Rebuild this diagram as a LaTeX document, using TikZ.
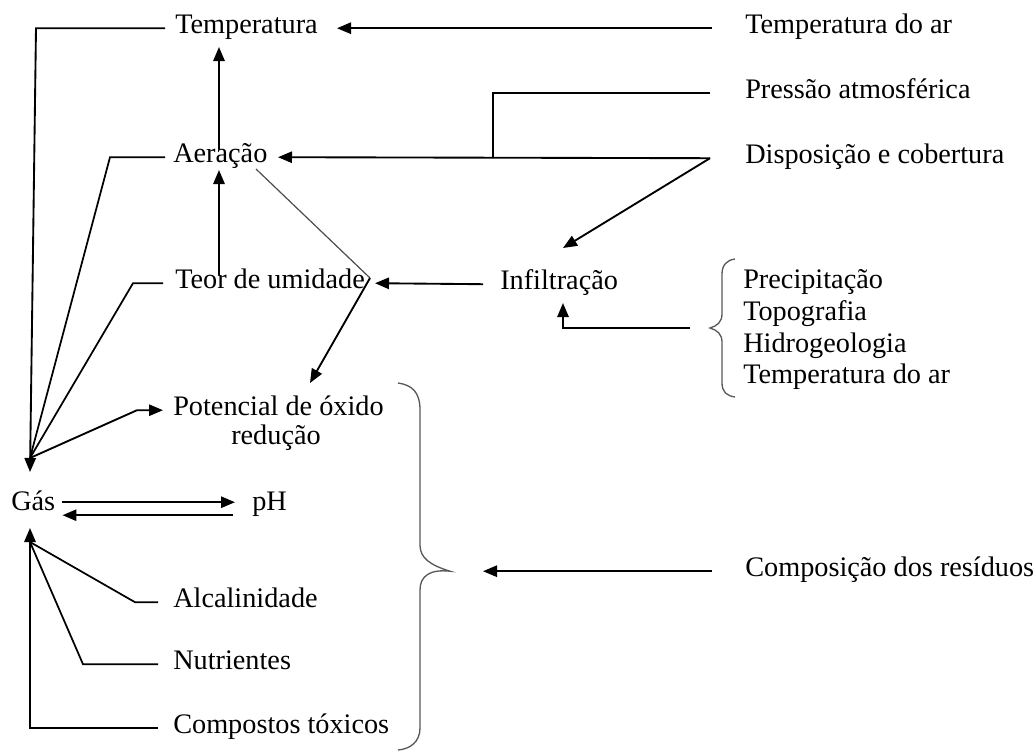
\documentclass[tikz,border=0pt]{standalone}
\usepackage{fontspec}
\setmainfont{Liberation Serif}
\usetikzlibrary{arrows.meta,calc}
\begin{document}
\begin{tikzpicture}[x=0.75pt,y=-0.75pt,
  lbl/.style={inner sep=0pt,anchor=base west,text height=0.95em,text depth=0.23em,font=\fontsize{21.2pt}{26pt}\selectfont},
  arr/.style={-{Triangle[length=10.5pt,width=8.5pt]},line width=1.4pt,black},
  ln/.style={line width=1.3pt,black},
  thin/.style={line width=0.9pt,black!70},
  brace/.style={line width=1pt,black!65}]
\useasboundingbox (0,0) rectangle (1036,751);

% nodes
\node[lbl] (temp)   at (175,33)  {Temperatura};
\node[lbl] (tempar) at (745,33)  {Temperatura do ar};
\node[lbl] (press)  at (745,98)  {Pressão atmosférica};
\node[lbl] (disp)   at (745,163) {Disposição e cobertura};
\node[lbl] (aer)    at (173,162) {Aeração};
\node[lbl] (teor)   at (175,288) {Teor de umidade};
\node[lbl] (infil)  at (500,289) {Infiltração};
\node[lbl] (pot)    at (173,415) {Potencial de óxido};
\node[lbl,anchor=base] (redu) at (276,444) {redução};
\node[lbl] (gas)    at (11,510)  {Gás};
\node[lbl] (ph)     at (252,510) {pH};
\node[lbl] (alc)    at (173,607) {Alcalinidade};
\node[lbl] (nutr)   at (173,669) {Nutrientes};
\node[lbl] (comp)   at (173,733) {Compostos tóxicos};
\node[lbl] (prec)   at (743,288) {Precipitação};
\node[lbl] (topo)   at (743,320) {Topografia};
\node[lbl] (hidro)  at (743,352) {Hidrogeologia};
\node[lbl] (tempar2) at (743,383) {Temperatura do ar};
\node[lbl] (compres) at (745,576) {Composição dos resíduos};

% helper coordinates
\coordinate (gtop)  at (30,472);
\coordinate (apex)  at (30,458);
\coordinate (gbot)  at (30,528);
\coordinate (apex2) at (30,542);
\coordinate (jt)    at (370,278);
\coordinate (btip)  at (450,0 |- compres.west);
\coordinate (sbtip) at (710,328);

% top right inputs
\draw[arr] ($(tempar.west)+(-33,0)$) -- (337,0 |- temp.east);
\draw[arr] ($(disp.west)+(-35,0)$) -- (278,0 |- aer.east);
\draw[ln] ($(press.west)+(-35,0)$) -| ($(disp.west)+(-252,0)$);
\draw[arr] ($(disp.west)+(-35,0)$) -- (563,248);

% vertical chain
\draw[arr] (219,0 |- aer.north) -- (219,47);
\draw[arr] (219,0 |- teor.north) -- (219,170);

% infiltration
\draw[arr] ($(infil.west)+(-17,0)$) -- (375,0 |- teor.east);
\draw[thin] (256,169) -- (jt);
\draw[arr] (jt) -- (310,383);
\draw[arr] (sbtip) ++(-20,0) -| (563,303);

% left side to Gas
\draw[arr] ($(temp.west)+(-10,0)$) -- ++(-129,0) -- (gtop);
\draw[ln] ($(aer.west)+(-8,0)$) -- ++(-55,0) -- (apex);
\draw[ln] ($(teor.west)+(-12,0)$) -- ++(-30,0) -- (apex);
\draw[arr] (apex) -- ($(pot.west)+(-36,0)$) -- ($(pot.west)+(-10,0)$);

% Gas <-> pH
\draw[arr] ($(gas.east)+(7,-3)$) -- ($(ph.west)+(-17,-3)$);
\draw[arr] ($(ph.west)+(-19,10)$) -- ($(gas.east)+(7,10)$);

% bottom
\draw[arr] ($(comp.west)+(-15,0)$) -- ($(comp.west)+(-143,0)$) -- (gbot);
\draw[ln] ($(alc.west)+(-15,0)$) -- ($(alc.west)+(-38,0)$) -- (apex2);
\draw[ln] ($(nutr.west)+(-15,0)$) -- ($(nutr.west)+(-90,0)$) -- (apex2);

% composition
\draw[arr] ($(compres.west)+(-33,0)$) -- ($(btip)+(33,0)$);

% big brace
\draw[brace] (398,383) .. controls (412,385) and (420,392) .. (420,410)
  -- (420,545) .. controls (420,558) and (430,565) .. (btip)
  .. controls (430,569) and (420,576) .. (420,590)
  -- (420,728) .. controls (420,742) and (410,749) .. (398,750);

% small brace
\draw[brace] (735,259) .. controls (727,260) and (722,265) .. (722,274)
  -- (722,314) .. controls (722,322) and (717,326) .. (sbtip)
  .. controls (717,330) and (722,334) .. (722,342)
  -- (722,383) .. controls (722,392) and (727,396) .. (735,397);
\end{tikzpicture}
\end{document}
